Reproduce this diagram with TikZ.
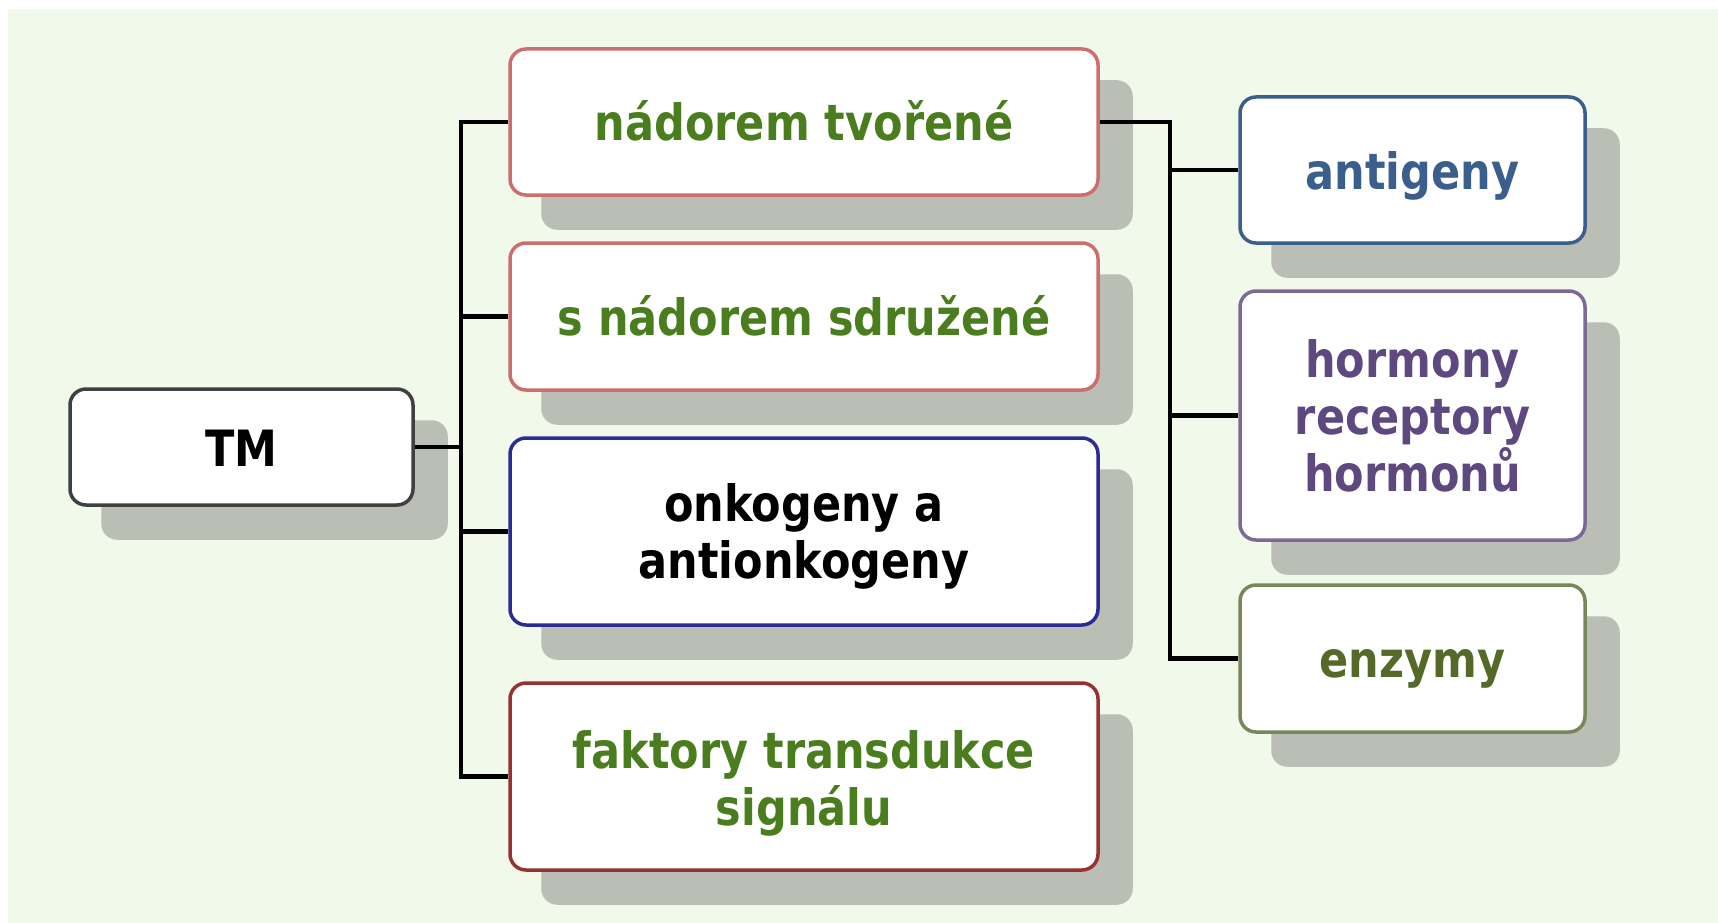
\documentclass[tikz,border=0pt]{standalone}
\usepackage{fontspec}
\setmainfont{DejaVu Sans}[FakeStretch=0.86]
\usetikzlibrary{backgrounds}

\definecolor{bgcol}{RGB}{240,249,234}
\definecolor{shadecol}{RGB}{187,190,181}
\definecolor{txtgreen}{RGB}{74,125,30}
\definecolor{txtblue}{RGB}{58,95,140}
\definecolor{txtpurple}{RGB}{94,72,128}
\definecolor{txtolive}{RGB}{85,105,40}
\definecolor{lightred}{RGB}{205,110,110}
\definecolor{darkred}{RGB}{150,50,50}
\definecolor{navy}{RGB}{43,43,150}
\definecolor{lilac}{RGB}{125,105,150}
\definecolor{sage}{RGB}{120,135,90}

\newcommand{\tallstrut}[1]{\rule{0pt}{#1}}

\tikzset{
	box/.style={draw, fill=white, rounded corners=16pt, line width=3.5pt, inner sep=0pt,
		align=center, font=\bfseries\fontsize{50}{57}\selectfont},
	oneline/.style={text height=44pt, text depth=6pt},
	link/.style={line width=4.5pt, black},
}

\begin{document}
\begin{tikzpicture}[x=1pt,y=-1pt]
	\useasboundingbox (0,0) rectangle (1718,923);

	\node[box, oneline, draw=black!75, minimum width=343, minimum height=116] (tm) at (241.5,447) {TM};

	\node[box, oneline, draw=lightred, text=txtgreen, minimum width=588, minimum height=146] (m1) at (804,122) {nádorem tvořené};
	\node[box, oneline, draw=lightred, text=txtgreen, minimum width=588, minimum height=147] (m2) at (804,316.5) {s nádorem sdružené};
	\node[box, draw=navy, text=black, minimum width=588, minimum height=187] (m3) at (804,531.5) {\tallstrut{47pt}onkogeny a\\antionkogeny};
	\node[box, draw=darkred, text=txtgreen, minimum width=588, minimum height=187] (m4) at (804,776.5) {\tallstrut{51pt}faktory transdukce\\signálu};

	\node[box, oneline, draw=txtblue, text=txtblue, minimum width=345, minimum height=146] (r1) at (1412.5,170) {antigeny};
	\node[box, draw=lilac, text=txtpurple, minimum width=345, minimum height=249] (r2) at (1412.5,415.5) {hormony\\receptory\\hormonů};
	\node[box, oneline, draw=sage, text=txtolive, minimum width=345, minimum height=147] (r3) at (1412.5,658.5) {enzymy};

	% shadows and background
	\begin{scope}[on background layer]
		\fill[bgcol] (8,9) rectangle (1718,923);
		\foreach \n in {tm,m1,m2,m3,m4,r1,r2,r3}
			\fill[shadecol, rounded corners=16pt] ([shift={(33,33)}]\n.north west) rectangle ([shift={(33,33)}]\n.south east);
	\end{scope}

	\coordinate (split) at ([xshift=46pt]tm.east);
	\coordinate (split2) at ([xshift=70pt]m1.east);

	\foreach \n in {m1,m2,m3,m4}
		\draw[link] (tm.east) -- (split) |- (\n.west);
	\foreach \n in {r1,r2,r3}
		\draw[link] (m1.east) -- (split2) |- (\n.west);

\end{tikzpicture}
\end{document}
